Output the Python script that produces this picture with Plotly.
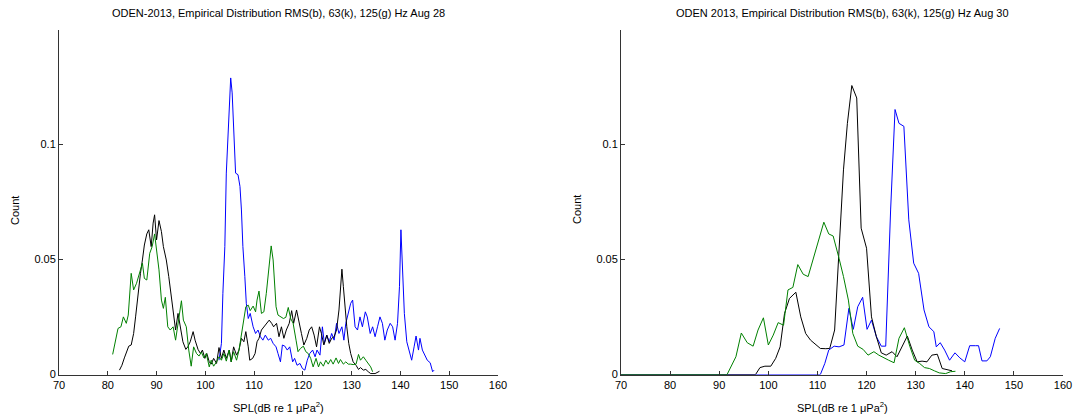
import plotly.graph_objects as go

# ---------------- Left panel (Aug 28) ----------------
l_green_x = [81.0, 82.1, 82.7, 83.2, 83.8, 84.2, 84.8, 85.3, 85.9, 86.5, 87.1, 87.5, 88.0, 88.6, 89.1, 89.6, 90.0, 90.5,
             91.0, 91.4, 91.8, 92.3, 92.8, 93.4, 93.9, 94.5, 95.1, 95.5, 96.1, 96.6, 97.1, 97.6, 98.2, 98.7, 99.2, 99.7,
             100.2, 100.8, 101.2, 101.7, 102.3, 102.8, 103.3, 103.8, 104.3, 104.9, 105.3, 105.8, 106.4, 106.9, 107.4,
             107.9, 108.3, 108.8, 109.2, 109.8, 110.3, 110.6, 111.0, 111.5, 112.0, 112.5, 113.0, 113.5, 113.9, 114.5,
             114.9, 115.5, 116.0, 116.5, 117.0, 117.5, 118.0, 118.6, 119.0, 119.5, 120.1, 120.6, 121.1, 121.6, 122.1,
             122.7, 123.2, 123.6, 124.2, 124.7, 125.2, 125.7, 126.2, 126.8, 127.3, 127.7, 128.3, 128.8, 129.3, 129.8,
             130.3, 130.9, 131.4, 131.8, 132.4, 132.9, 133.4, 133.9, 134.3]
l_green_y = [0.0087, 0.0200, 0.0207, 0.0250, 0.0222, 0.0258, 0.0439, 0.0367, 0.0396, 0.0439, 0.0483, 0.0417, 0.0410,
             0.0526, 0.0555, 0.0610, 0.0548, 0.0454, 0.0323, 0.0287, 0.0335, 0.0207, 0.0193, 0.0207, 0.0149, 0.0236,
             0.0320, 0.0236, 0.0207, 0.0106, 0.0036, 0.0120, 0.0091, 0.0080, 0.0097, 0.0072, 0.0091, 0.0033, 0.0062,
             0.0036, 0.0055, 0.0077, 0.0062, 0.0091, 0.0058, 0.0106, 0.0055, 0.0099, 0.0062, 0.0106, 0.0178, 0.0250,
             0.0294, 0.0301, 0.0277, 0.0297, 0.0272, 0.0323, 0.0362, 0.0265, 0.0272, 0.0352, 0.0446, 0.0558, 0.0497,
             0.0294, 0.0258, 0.0250, 0.0243, 0.0248, 0.0291, 0.0243, 0.0222, 0.0149, 0.0099, 0.0113, 0.0123, 0.0099,
             0.0091, 0.0070, 0.0033, 0.0070, 0.0033, 0.0055, 0.0036, 0.0062, 0.0045, 0.0065, 0.0045, 0.0072, 0.0048,
             0.0065, 0.0045, 0.0055, 0.0045, 0.0045, 0.0043, 0.0045, 0.0087, 0.0062, 0.0077, 0.0062, 0.0048, 0.0033,
             0.0012]

l_black_x = [82.4, 82.9, 83.4, 83.9, 84.3, 84.8, 85.3, 85.7, 86.2, 86.7, 87.1, 87.5, 88.0, 88.4, 88.9, 89.3, 89.6, 90.0,
             90.5, 91.0, 91.4, 92.0, 92.5, 93.0, 93.5, 93.9, 94.4, 94.9, 95.4, 96.0, 96.4, 96.9, 97.5, 97.9, 98.5, 99.0,
             99.4, 99.9, 100.3, 100.8, 101.2, 101.7, 102.3, 102.8, 103.3, 103.8, 104.3, 104.9, 105.3, 105.8, 106.4,
             106.9, 107.4, 107.9, 108.3, 108.8, 109.1, 109.7, 110.2, 110.6, 111.0, 111.5, 112.0, 112.5, 113.1, 113.6,
             114.0, 114.6, 115.1, 115.6, 116.1, 116.6, 117.2, 117.7, 118.1, 118.7, 119.2, 119.7, 120.2, 120.8, 121.3,
             121.8, 122.3, 122.8, 123.4, 123.8, 124.3, 124.9, 125.4, 125.9, 126.4, 126.9, 127.4, 127.7, 128.0, 128.3,
             128.6, 129.0, 129.4, 129.8, 130.3, 130.9, 131.4, 131.8, 132.4, 132.9, 133.4, 133.9, 134.8, 135.7]
l_black_y = [0.0019, 0.0040, 0.0072, 0.0106, 0.0123, 0.0128, 0.0178, 0.0250, 0.0352, 0.0439, 0.0497, 0.0562, 0.0610,
             0.0628, 0.0555, 0.0657, 0.0693, 0.0584, 0.0668, 0.0620, 0.0555, 0.0497, 0.0425, 0.0338, 0.0250, 0.0193,
             0.0265, 0.0193, 0.0142, 0.0109, 0.0120, 0.0142, 0.0186, 0.0149, 0.0109, 0.0091, 0.0106, 0.0070, 0.0091,
             0.0055, 0.0045, 0.0070, 0.0048, 0.0117, 0.0070, 0.0106, 0.0070, 0.0106, 0.0055, 0.0120, 0.0084, 0.0106,
             0.0157, 0.0142, 0.0186, 0.0120, 0.0062, 0.0070, 0.0091, 0.0142, 0.0157, 0.0193, 0.0207, 0.0222, 0.0236,
             0.0222, 0.0207, 0.0222, 0.0164, 0.0207, 0.0157, 0.0193, 0.0222, 0.0277, 0.0222, 0.0280, 0.0222, 0.0178,
             0.0128, 0.0157, 0.0193, 0.0207, 0.0171, 0.0120, 0.0207, 0.0178, 0.0128, 0.0171, 0.0135, 0.0157, 0.0164,
             0.0193, 0.0280, 0.0367, 0.0457, 0.0381, 0.0294, 0.0207, 0.0135, 0.0091, 0.0055, 0.0040, 0.0022, 0.0030,
             0.0019, 0.0022, 0.0012, 0.0004, 0.0004, 0.0014]

l_blue_x = [102.8, 103.3, 103.6, 104.0, 104.3, 104.7, 105.0, 105.2, 105.5, 105.8, 106.2, 106.7, 107.1, 107.4, 107.7,
            108.1, 108.4, 108.8, 109.2, 109.8, 110.3, 110.8, 111.3, 111.8, 112.3, 112.9, 113.4, 113.9, 114.5, 114.9,
            115.4, 115.8, 116.3, 116.8, 117.3, 117.9, 118.3, 118.8, 119.4, 119.9, 120.4, 120.9, 121.4, 122.0, 122.5,
            122.9, 123.5, 124.0, 124.4, 124.9, 125.4, 125.9, 126.4, 126.9, 127.4, 128.0, 128.4, 128.8, 129.3, 129.8,
            130.2, 130.7, 131.2, 131.7, 132.2, 132.8, 133.2, 133.8, 134.3, 134.8, 135.3, 135.8, 136.3, 136.8, 137.3,
            137.9, 138.4, 138.9, 139.4, 139.8, 140.1, 140.4, 140.8, 141.3, 141.9, 142.3, 142.8, 143.2, 143.7, 144.0,
            144.5, 145.1, 145.5, 146.1, 146.6, 146.9]
l_blue_y = [0.0062, 0.0135, 0.0352, 0.0555, 0.0874, 0.1077, 0.1236, 0.1287, 0.1222, 0.1033, 0.0874, 0.0867, 0.0816,
            0.0714, 0.0555, 0.0425, 0.0309, 0.0243, 0.0265, 0.0207, 0.0178, 0.0193, 0.0164, 0.0149, 0.0171, 0.0149,
            0.0157, 0.0135, 0.0120, 0.0091, 0.0055, 0.0128, 0.0123, 0.0106, 0.0120, 0.0055, 0.0070, 0.0040, 0.0048,
            0.0026, 0.0019, 0.0062, 0.0091, 0.0106, 0.0077, 0.0106, 0.0084, 0.0207, 0.0135, 0.0171, 0.0142, 0.0178,
            0.0149, 0.0222, 0.0178, 0.0207, 0.0149, 0.0222, 0.0272, 0.0309, 0.0323, 0.0207, 0.0193, 0.0250, 0.0207,
            0.0272, 0.0250, 0.0178, 0.0207, 0.0164, 0.0207, 0.0250, 0.0222, 0.0149, 0.0193, 0.0222, 0.0207, 0.0149,
            0.0222, 0.0381, 0.0628, 0.0497, 0.0265, 0.0142, 0.0091, 0.0062, 0.0120, 0.0167, 0.0106, 0.0157, 0.0106,
            0.0077, 0.0062, 0.0051, 0.0012, 0.0019]

# ---------------- Right panel (Aug 30) ----------------
r_green_x = [70.0, 91.6, 93.4, 94.5, 95.7, 96.9, 97.9, 99.0, 100.0, 101.0, 102.0, 103.1, 104.0, 105.0, 106.0, 107.1,
             108.1, 109.1, 110.1, 111.3, 112.3, 113.2, 114.4, 115.3, 116.3, 117.2, 118.2, 119.3, 120.3, 121.5, 122.5,
             123.5, 124.5, 125.6, 126.6, 127.7, 128.8, 129.8, 130.8, 131.8, 132.8, 133.8, 134.8, 136.1, 137.1, 138.1]
r_green_y = [0.0, 0.0, 0.0077, 0.0180, 0.0138, 0.0123, 0.0193, 0.0246, 0.0128, 0.0171, 0.0225, 0.0214, 0.0367, 0.0378,
             0.0477, 0.0435, 0.0425, 0.0497, 0.0577, 0.0661, 0.0610, 0.0601, 0.0504, 0.0425, 0.0323, 0.0178, 0.0123,
             0.0109, 0.0084, 0.0099, 0.0084, 0.0072, 0.0062, 0.0051, 0.0157, 0.0203, 0.0123, 0.0062, 0.0048, 0.0030,
             0.0026, 0.0016, 0.0007, 0.0004, 0.0012, 0.0014]

r_black_x = [70.0, 97.4, 98.3, 99.3, 100.5, 101.5, 102.4, 103.3, 104.3, 105.6, 106.6, 107.6, 108.6, 109.6, 110.6, 111.7,
             112.5, 113.5, 114.4, 115.3, 116.1, 117.0, 118.0, 118.9, 120.0, 121.0, 122.0, 123.0, 124.0, 125.2, 126.2,
             127.2, 128.3, 129.3, 130.3, 131.3, 132.3, 133.3, 134.4, 135.4, 136.4, 137.4]
r_black_y = [0.0, 0.0, 0.0030, 0.0036, 0.0036, 0.0070, 0.0120, 0.0265, 0.0330, 0.0357, 0.0250, 0.0178, 0.0149, 0.0132,
             0.0113, 0.0112, 0.0113, 0.0193, 0.0526, 0.0888, 0.1090, 0.1254, 0.1200, 0.0635, 0.0548, 0.0250, 0.0164,
             0.0094, 0.0084, 0.0099, 0.0077, 0.0120, 0.0167, 0.0106, 0.0055, 0.0058, 0.0055, 0.0084, 0.0088, 0.0026,
             0.0022, 0.0016]

r_blue_x = [70.0, 110.6, 111.5, 112.3, 113.4, 114.4, 115.4, 116.4, 117.3, 118.2, 119.2, 120.1, 121.0, 122.0, 123.0,
            123.9, 124.9, 125.8, 126.6, 127.6, 128.6, 129.6, 130.6, 131.7, 132.7, 133.7, 134.2, 135.0, 135.9, 136.9,
            138.0, 139.0, 140.0, 141.0, 142.2, 142.8, 143.5, 144.5, 145.2, 146.2, 147.1]
r_blue_y = [0.0, 0.0, 0.0048, 0.0106, 0.0123, 0.0120, 0.0128, 0.0287, 0.0196, 0.0294, 0.0335, 0.0196, 0.0236, 0.0164,
            0.0123, 0.0123, 0.0714, 0.1150, 0.1090, 0.1077, 0.0671, 0.0483, 0.0439, 0.0280, 0.0207, 0.0186, 0.0120,
            0.0138, 0.0106, 0.0062, 0.0094, 0.0072, 0.0055, 0.0125, 0.0125, 0.0125, 0.0059, 0.0059, 0.0077, 0.0157,
            0.0200]

titles = ["ODEN-2013, Empirical Distribution RMS(b), 63(k), 125(g) Hz Aug 28",
          "ODEN 2013, Empirical Distribution RMS(b), 63(k), 125(g) Hz Aug 30"]
x_ticks = [70, 80, 90, 100, 110, 120, 130, 140, 150, 160]
y_ticks = [0, 0.05, 0.1]
y_tick_text = ["0", "0.05", "0.1"]
x_title = "SPL(dB re 1 μPa<sup>2</sup>)"
y_title = "Count"

BLUE = "#0000ff"
BLACK = "#000000"
GREEN = "#008000"

W, H = 1074, 419
fig = go.Figure()

def add(x, y, color, axis):
    fig.add_trace(go.Scatter(x=x, y=y, mode="lines", line=dict(color=color, width=1),
                             xaxis="x" + axis, yaxis="y" + axis, showlegend=False, hoverinfo="skip"))

add(l_blue_x, l_blue_y, BLUE, "")
add(l_black_x, l_black_y, BLACK, "")
add(l_green_x, l_green_y, GREEN, "")
add(r_blue_x, r_blue_y, BLUE, "2")
add(r_black_x, r_black_y, BLACK, "2")
add(r_green_x, r_green_y, GREEN, "2")

left_px = (59, 498)
right_px = (621, 1063)
top_px, bot_px = 30, 374.5
ydom = [(H - bot_px) / H, (H - top_px) / H]

font = dict(family="Liberation Sans, Arial, sans-serif", size=11, color="#000000")

xcommon = dict(range=[70, 160], tickvals=x_ticks, ticks="inside", ticklen=4, tickcolor="#333333",
               showline=True, linecolor="#333333", linewidth=1, showgrid=False, zeroline=False,
               tickfont=font, fixedrange=True, automargin=False)
ycommon = dict(range=[0, 0.1495], tickvals=y_ticks, ticktext=y_tick_text, ticks="inside", ticklen=4,
               tickcolor="#333333", showline=True, linecolor="#333333", linewidth=1, showgrid=False,
               zeroline=False, tickfont=font, fixedrange=True, domain=ydom, automargin=False)

fig.update_layout(
    width=W, height=H,
    margin=dict(l=0, r=0, t=0, b=0, pad=0, autoexpand=False),
    paper_bgcolor="white", plot_bgcolor="white",
    font=font,
    xaxis=dict(domain=[left_px[0] / W, left_px[1] / W], anchor="y", **xcommon),
    yaxis=dict(anchor="x", **ycommon),
    xaxis2=dict(domain=[right_px[0] / W, right_px[1] / W], anchor="y2", **xcommon),
    yaxis2=dict(anchor="x2", **ycommon),
)

annotations = []
for i, (l, r) in enumerate([left_px, right_px]):
    cx = (l + r) / 2 / W
    annotations.append(dict(text=titles[i], x=cx, y=(H - 13) / H, xref="paper", yref="paper",
                            showarrow=False, font=font, xanchor="center", yanchor="middle"))
    annotations.append(dict(text=x_title, x=cx, y=(H - 407) / H, xref="paper", yref="paper",
                            showarrow=False, font=font, xanchor="center", yanchor="middle"))
    annotations.append(dict(text=y_title, x=(l - 44) / W, y=(H - 210) / H, xref="paper", yref="paper",
                            showarrow=False, font=font, textangle=-90, xanchor="center", yanchor="middle"))
fig.update_layout(annotations=annotations)

fig.write_html("out.html", config={"displayModeBar": False},
               post_script="document.body.style.margin='0';document.body.style.overflow='hidden';")
